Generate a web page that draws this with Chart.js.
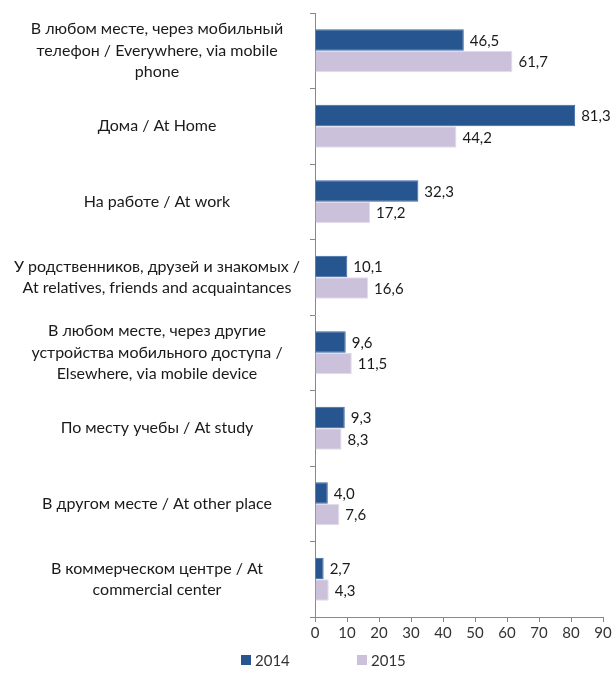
<!DOCTYPE html>
<html>
<head>
<meta charset="utf-8">
<script src="https://cdn.jsdelivr.net/npm/chart.js@4/dist/chart.umd.min.js"></script>
<style>
html,body{margin:0;padding:0;background:#fff;}
#wrap{width:614px;height:693px;position:relative;}
</style>
</head>
<body>
<div id="wrap"><canvas id="c" width="614" height="693"></canvas></div>
<script>
const categories = [
  ["В любом месте, через мобильный", "телефон / Everywhere, via mobile", "phone"],
  "Дома / At Home",
  "На работе / At work",
  ["У родственников, друзей и знакомых /", "At relatives, friends and acquaintances"],
  ["В любом месте, через другие", "устройства мобильного доступа /", "Elsewhere, via mobile device"],
  "По месту учебы / At study",
  "В другом месте / At other place",
  ["В коммерческом центре / At", "commercial center"]
];
const seriesNames = ["2014", "2015"];
const values2014 = [46.5, 81.3, 32.3, 10.1, 9.6, 9.3, 4.0, 2.7];
const values2015 = [61.7, 44.2, 17.2, 16.6, 11.5, 8.3, 7.6, 4.3];
const xTicks = [0, 10, 20, 30, 40, 50, 60, 70, 80, 90];

const FONT = "Lato, 'Open Sans', sans-serif";

const valueLabels = {
  id: 'valueLabels',
  afterDatasetsDraw(chart) {
    const ctx = chart.ctx;
    ctx.save();
    ctx.font = "15px " + FONT;
    ctx.fillStyle = '#1a1a1a';
    ctx.textAlign = 'left';
    ctx.textBaseline = 'middle';
    chart.data.datasets.forEach((ds, i) => {
      const meta = chart.getDatasetMeta(i);
      meta.data.forEach((bar, j) => {
        const txt = ds.data[j].toFixed(1).replace('.', ',');
        ctx.fillText(txt, bar.x + 6, bar.y + 1);
      });
    });
    ctx.restore();
  }
};

const bottomLegend = {
  id: 'bottomLegend',
  afterDraw(chart) {
    const ctx = chart.ctx;
    const starts = [241, 357];
    const cy = 660;
    ctx.save();
    ctx.font = "15px " + FONT;
    ctx.textBaseline = 'middle';
    ctx.textAlign = 'left';
    chart.data.datasets.forEach((ds, i) => {
      const x = starts[i];
      ctx.fillStyle = ds.backgroundColor;
      ctx.fillRect(x, cy - 5, 10, 10);
      ctx.fillStyle = '#333333';
      ctx.fillText(ds.label, x + 14, cy + 1);
    });
    ctx.restore();
  }
};

new Chart(document.getElementById('c'), {
  type: 'bar',
  data: {
    labels: categories,
    datasets: [
      { label: seriesNames[0], data: values2014, backgroundColor: '#26558f', borderColor: '#3a68a6', borderWidth: 1,
        categoryPercentage: 0.57, barPercentage: 1.0 },
      { label: seriesNames[1], data: values2015, backgroundColor: '#ccc1da', borderColor: '#e2dbea', borderWidth: 1,
        categoryPercentage: 0.57, barPercentage: 1.0 }
    ]
  },
  options: {
    indexAxis: 'y',
    responsive: false,
    animation: false,
    devicePixelRatio: 1,
    layout: { padding: { top: 13, right: 11, left: 0, bottom: 49 } },
    scales: {
      x: {
        min: 0, max: 90,
        afterBuildTicks(scale) { scale.ticks = xTicks.map(v => ({ value: v })); },
        grid: { drawOnChartArea: false, drawTicks: true, tickLength: 5, color: '#888888' },
        border: { color: '#888888', width: 1 },
        ticks: { color: '#333333', font: { family: FONT, size: 15 }, padding: 2, maxRotation: 0 }
      },
      y: {
        afterFit(scale) { scale.width = 315; scale.paddingTop = 0; scale.paddingBottom = 0; },
        grid: { drawOnChartArea: false, drawTicks: true, tickLength: 5, color: '#888888', offset: true },
        border: { color: '#888888', width: 1 },
        ticks: { color: '#1a1a1a', font: { family: FONT, size: 16, lineHeight: '21.5px' }, padding: 10, crossAlign: 'center', autoSkip: false }
      }
    },
    plugins: {
      legend: { display: false },
      tooltip: { enabled: false }
    }
  },
  plugins: [valueLabels, bottomLegend]
});
</script>
</body>
</html>
